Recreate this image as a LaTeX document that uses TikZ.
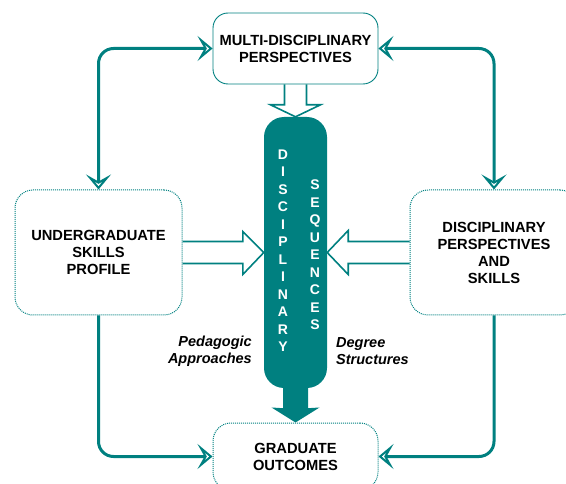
\documentclass[tikz,border=0pt]{standalone}
\usepackage{fontspec}
\setmainfont{Liberation Sans}
\usetikzlibrary{calc,arrows.meta}
\definecolor{tealc}{RGB}{0,128,128}
\begin{document}
\begin{tikzpicture}[x=1pt,y=-1pt,
  lbl/.style={font=\bfseries\fontsize{14.7}{17}\selectfont, align=center, text=black, inner sep=0pt},
  solidbox/.style={draw=tealc, line width=0.9pt, rounded corners=15pt, lbl},
  dotbox/.style={draw=tealc, line width=1pt, dash pattern=on 1pt off 1pt, rounded corners=18pt, lbl},
  conn/.style={draw=tealc, line width=3pt, rounded corners=15pt,
    >={Stealth[open,length=15pt,width=25pt,inset=7pt]}},
  hollow/.style={draw=tealc, line width=1.6pt, line join=miter},
  spine/.style={font=\bfseries\fontsize{14}{17.5}\selectfont, text=white, align=center, inner sep=0pt},
  note/.style={font=\bfseries\itshape\fontsize{14.5}{16.6}\selectfont, inner sep=0pt}
]
\useasboundingbox (0,0) rectangle (566,484);
\begin{scope}
\clip (0,0) rectangle (566,484);

% central column
\node[fill=tealc, rounded corners=20pt, minimum width=63pt, minimum height=271pt, inner sep=0pt] (pillar) at (295.5,252.5) {};
\node[spine] (disc) at (283,250.5) {D\\I\\S\\C\\I\\P\\L\\I\\N\\A\\R\\Y};
\node[spine] (seq) at (315,255) {S\\E\\Q\\U\\E\\N\\C\\E\\S};

% boxes
\node[solidbox, minimum width=165pt, minimum height=71pt] (top) at (295.5,48.5) {MULTI-DISCIPLINARY\\PERSPECTIVES};
\node[dotbox, minimum width=167pt, minimum height=125pt] (left) at (98.5,252.5) {UNDERGRADUATE\\SKILLS\\PROFILE};
\node[dotbox, minimum width=168pt, minimum height=125pt] (right) at (494,252.5) {DISCIPLINARY\\PERSPECTIVES\\AND\\SKILLS};
\node[dotbox, minimum width=165pt, minimum height=67pt] (bottom) at (295.5,456.5) {GRADUATE\\OUTCOMES};

% side labels
\node[note, align=right, anchor=east] (ped) at (252,351) {Pedagogic\\Approaches};
\node[note, align=left, anchor=west] (deg) at (336,351) {Degree\\Structures};

% outline block arrows into the column
\draw[hollow] ($(left.east)+(0,-11)$) -- ($(pillar.west)+(-21,-11)$) -- ($(pillar.west)+(-21,-21)$)
  -- (pillar.west) -- ($(pillar.west)+(-21,22)$) -- ($(pillar.west)+(-21,11)$) -- ($(left.east)+(0,11)$);
\draw[hollow] ($(right.west)+(0,-11)$) -- ($(pillar.east)+(21,-11)$) -- ($(pillar.east)+(21,-22)$)
  -- (pillar.east) -- ($(pillar.east)+(21,22)$) -- ($(pillar.east)+(21,11)$) -- ($(right.west)+(0,11)$);
\draw[hollow] ($(top.south)+(-11,0)$) -- ($(pillar.north)+(-11,-12)$) -- ($(pillar.north)+(-25,-12)$)
  -- (pillar.north) -- ($(pillar.north)+(25,-12)$) -- ($(pillar.north)+(11,-12)$) -- ($(top.south)+(11,0)$);

% solid arrow out of the column
\fill[tealc] ($(pillar.south)+(-12.5,-2)$) -- ($(pillar.south)+(-12.5,20)$) -- ($(bottom.north)+(-24,-15)$)
  -- (bottom.north) -- ($(bottom.north)+(24,-15)$) -- ($(pillar.south)+(12.5,20)$) -- ($(pillar.south)+(12.5,-2)$) -- cycle;

% outer loop connectors
\draw[conn,<->] (top.west) -| (left.north);
\draw[conn,<->] (top.east) -| (right.north);
\draw[conn,->] (left.south) |- (bottom.west);
\draw[conn,->] (right.south) |- (bottom.east);
\end{scope}
\end{tikzpicture}
\end{document}
